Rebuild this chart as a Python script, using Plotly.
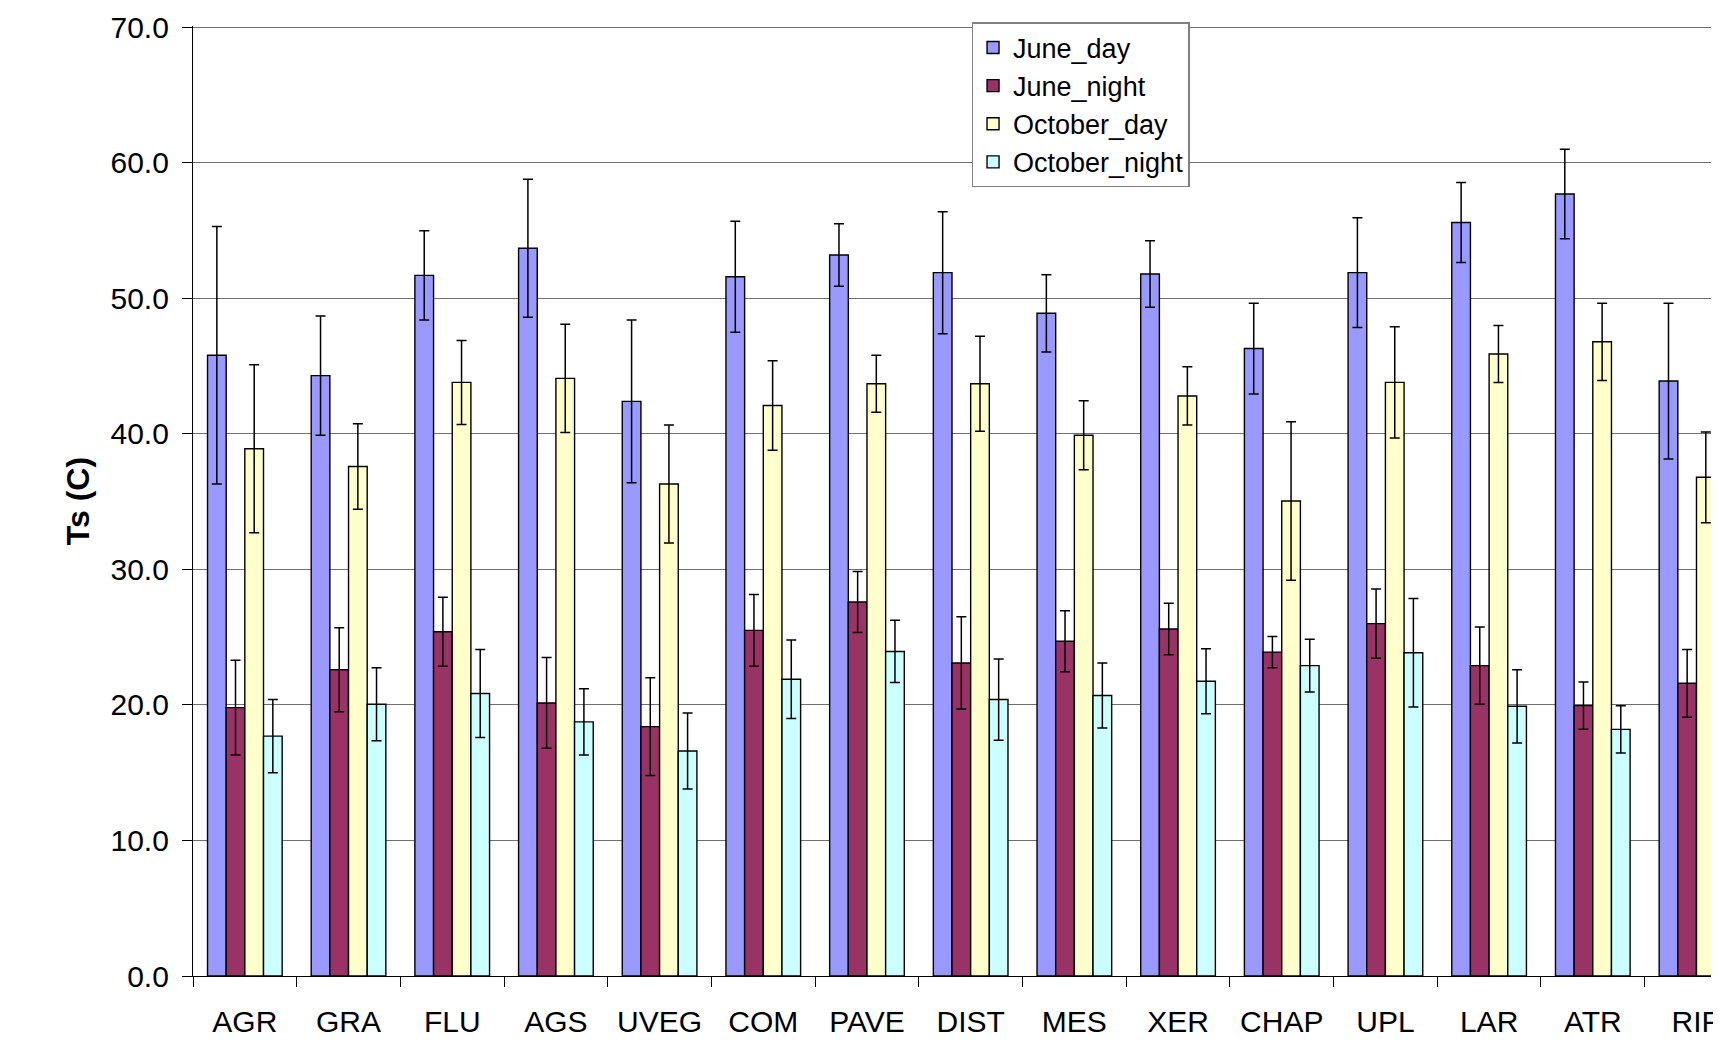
import plotly.graph_objects as go

categories = ["AGR", "GRA", "FLU", "AGS", "UVEG", "COM", "PAVE", "DIST", "MES",
              "XER", "CHAP", "UPL", "LAR", "ATR", "RIP"]

june_day = [45.8, 44.3, 51.7, 53.7, 42.4, 51.6, 53.2, 51.9, 48.9, 51.8, 46.3, 51.9, 55.6, 57.7, 43.9]
june_day_err = [9.5, 4.4, 3.3, 5.1, 6.0, 4.1, 2.3, 4.5, 2.85, 2.45, 3.35, 4.05, 2.95, 3.3, 5.75]

june_night = [19.8, 22.6, 25.4, 20.15, 18.4, 25.5, 27.6, 23.1, 24.7, 25.6, 23.9, 26.0, 22.9, 19.95, 21.6]
june_night_err = [3.5, 3.1, 2.55, 3.35, 3.6, 2.65, 2.25, 3.4, 2.25, 1.9, 1.15, 2.55, 2.85, 1.75, 2.5]

october_day = [38.9, 37.6, 43.8, 44.1, 36.3, 42.1, 43.7, 43.7, 39.9, 42.8, 35.05, 43.8, 45.9, 46.8, 36.8]
october_day_err = [6.2, 3.15, 3.1, 4.0, 4.35, 3.3, 2.1, 3.5, 2.55, 2.15, 5.85, 4.1, 2.1, 2.85, 3.35]

october_night = [17.7, 20.05, 20.85, 18.75, 16.6, 21.9, 23.95, 20.4, 20.7, 21.75, 22.9, 23.85, 19.9, 18.2, None]
october_night_err = [2.7, 2.7, 3.25, 2.45, 2.8, 2.9, 2.3, 3.0, 2.4, 2.4, 1.95, 4.0, 2.7, 1.75, None]

y_ticks = [0, 10, 20, 30, 40, 50, 60, 70]

series = [
    ("June_day", june_day, june_day_err, "#9999FF"),
    ("June_night", june_night, june_night_err, "#993366"),
    ("October_day", october_day, october_day_err, "#FFFFCC"),
    ("October_night", october_night, october_night_err, "#CCFFFF"),
]

FONT = "Liberation Sans, Arial, sans-serif"

fig = go.Figure()
for name, vals, errs, color in series:
    fig.add_trace(go.Bar(
        name=name, x=categories, y=vals,
        marker=dict(color=color, line=dict(color="black", width=1.4)),
        error_y=dict(type="data", array=errs, visible=True, color="black",
                     thickness=1.5, width=5),
        legendgroup=name,
    ))

fig.update_layout(
    width=1713, height=1052,
    paper_bgcolor="white", plot_bgcolor="white",
    barmode="group", bargap=0.28, bargroupgap=0,
    margin=dict(l=185, r=0, t=18, b=84),
    font=dict(family=FONT, size=30, color="black"),
    showlegend=True,
    legend=dict(
        x=0.513, y=1.004, xanchor="left", yanchor="top",
        bgcolor="white", bordercolor="#808080", borderwidth=1.3,
        font=dict(family=FONT, size=27, color="black"),
        tracegroupgap=6, traceorder="normal",
    ),
)

fig.update_xaxes(
    range=[-0.5, 14.14],
    showline=True, linecolor="black", linewidth=1.3,
    ticks="outside", tickson="boundaries", ticklen=10, tickcolor="black", tickwidth=1.3,
    tickfont=dict(family=FONT, size=30, color="black"),
    ticklabelstandoff=19,
    showgrid=False, zeroline=False,
)

fig.update_yaxes(
    range=[0, 70.1], tickvals=y_ticks, tickformat=".1f",
    showline=True, linecolor="black", linewidth=1.3,
    ticks="outside", ticklen=10, tickcolor="black", tickwidth=1.3,
    tickfont=dict(family=FONT, size=30, color="black"),
    ticklabelstandoff=7,
    showgrid=True, gridcolor="#707070", gridwidth=1.2,
    zeroline=False,
    title=dict(text="<b>Ts (C)</b>", font=dict(family=FONT, size=32, color="black"), standoff=11),
)

fig.write_html("out.html")
